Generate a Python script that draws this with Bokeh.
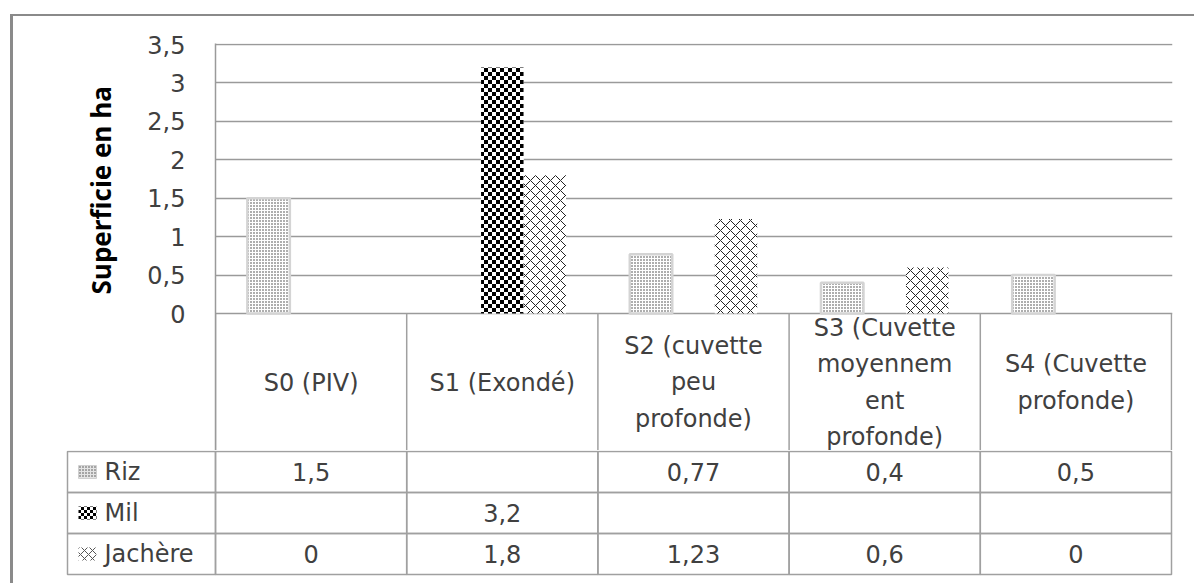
import base64
from bokeh.plotting import figure
from bokeh.models import (Range1d, FixedTicker, CustomJSTickFormatter, Title,
                          ColumnDataSource, ImageURLTexture, Div)
from bokeh.core.properties import value
from bokeh.transform import dodge
from bokeh.embed import file_html
from bokeh.resources import INLINE

# ---------------- data ----------------
CATEGORIES = ["S0 (PIV)", "S1 (Exondé)", "S2 (cuvette peu profonde)",
              "S3 (Cuvette moyennement profonde)", "S4 (Cuvette profonde)"]
CAT_LABELS = ["S0 (PIV)", "S1 (Exondé)", "S2 (cuvette\npeu\nprofonde)",
              "S3 (Cuvette\nmoyennem\nent\nprofonde)", "S4 (Cuvette\nprofonde)"]
SERIES = ["Riz", "Mil", "Jachère"]
RIZ = [1.5, None, 0.77, 0.4, 0.5]
MIL = [None, 3.2, None, None, None]
JACHERE = [0, 1.8, 1.23, 0.6, 0]
Y_TICKS = [0, 0.5, 1, 1.5, 2, 2.5, 3, 3.5]
Y_LABEL = "Superficie en ha"

# ---------------- style / layout (page pixels) ----------------
FONT = "DejaVu Sans"
FS = "24px"
TXT = "#404040"
GRID = "#9a9a9a"
TLINE = "#a0a0a0"
FRAME = "#8a8a8a"

W = 1186
PLOT_L = 215
PLOT_T, PLOT_B = 44, 313
FRAME_T = 43
TOP_H = 450          # chart canvas (plot + header row of the table)
HEADER_B = 451
ROW_H = 41
LEG_L = 67
TABLE_H = 127
n = len(CATEGORIES)
CW = 191.2
BW = 1 / 4.5

nan = float("nan")


def bar_vals(vals):
    return [nan if v is None else v for v in vals]


def fmt(v):
    return "" if v is None else f"{v:g}".replace(".", ",")


xc = [i + 0.5 for i in range(n)]
src = ColumnDataSource(dict(xc=xc, riz=bar_vals(RIZ), mil=bar_vals(MIL),
                            jach=bar_vals(JACHERE)))

K = (PLOT_B - PLOT_T) / Y_TICKS[-1]
y_end = Y_TICKS[-1] + (PLOT_T - FRAME_T) / K
y_start = -(TOP_H - PLOT_B) / K
x_end = n + 1 / CW


def checker_texture(cell):
    s = 2 * cell
    svg = (f"<svg xmlns='http://www.w3.org/2000/svg' width='{s}' height='{s}' "
           f"shape-rendering='crispEdges'>"
           f"<rect width='{s}' height='{s}' fill='white'/>"
           f"<rect x='0' y='0' width='{cell}' height='{cell}' fill='black'/>"
           f"<rect x='{cell}' y='{cell}' width='{cell}' height='{cell}' fill='black'/></svg>")
    url = "data:image/svg+xml;base64," + base64.b64encode(svg.encode()).decode()
    return ImageURLTexture(url=url, repetition="repeat")


checker_big = checker_texture(4)
checker_small = checker_texture(3)
try:
    CHECK = value("checker")
    figure().vbar(x=[0], top=[1], hatch_pattern=CHECK,
                  hatch_extra={"checker": checker_big})
except Exception:
    CHECK = "checker"

# ---------------- chart ----------------
p = figure(width=W, height=TOP_H,
           x_range=Range1d(0, x_end), y_range=Range1d(y_start, y_end),
           output_backend="svg", toolbar_location=None,
           min_border_left=PLOT_L, min_border_right=W - PLOT_L - int(round(CW * x_end)),
           min_border_top=FRAME_T, min_border_bottom=0)
p.outline_line_color = None
p.background_fill_color = "white"
p.border_fill_color = "white"
p.xaxis.visible = False
p.xgrid.visible = False
p.ygrid.ticker = FixedTicker(ticks=Y_TICKS)
p.ygrid.grid_line_color = GRID
p.ygrid.grid_line_width = 1.5

ax = p.yaxis[0]
ax.ticker = FixedTicker(ticks=Y_TICKS)
ax.formatter = CustomJSTickFormatter(code="return tick.toString().replace('.', ',');")
ax.axis_line_color = GRID
ax.axis_line_width = 1.5
ax.major_tick_line_color = None
ax.minor_tick_line_color = None
ax.major_tick_out = 0
ax.major_tick_in = 0
ax.major_label_standoff = 30
ax.major_label_text_font = FONT
ax.major_label_text_font_size = FS
ax.major_label_text_color = TXT

p.add_layout(Title(text=Y_LABEL, align="left", offset=TOP_H - 294,
                   text_font="Open Sans", text_font_style="bold",
                   text_font_size="26px", text_color="black", standoff=52), "left")

p.vbar(x=dodge("xc", -BW), top="riz", width=BW, source=src,
       fill_color="white", line_color="#d4d4d4", line_width=2.5,
       hatch_pattern="dot", hatch_scale=3, hatch_color="#333333", hatch_weight=1)
p.vbar(x=dodge("xc", 0), top="mil", width=BW, source=src,
       fill_color="white", line_color=None,
       hatch_pattern=CHECK, hatch_extra={"checker": checker_big},
       hatch_scale=8, hatch_color="black")
p.vbar(x=dodge("xc", BW), top="jach", width=BW, source=src,
       fill_color="white", line_color=None,
       hatch_pattern="diagonal_cross", hatch_scale=10, hatch_weight=1,
       hatch_color="#222222")

# header row of the data table (category labels)
bounds = list(range(n + 1))
p.segment(x0=bounds, x1=bounds, y0=[0] * (n + 1), y1=[y_start] * (n + 1),
          line_color=TLINE, line_width=1.5)
p.text(x=xc, y=[-((PLOT_B + HEADER_B) / 2 - PLOT_B) / K] * n, text=CAT_LABELS,
       text_align="center", text_baseline="middle", text_font=value(FONT),
       text_font_size=FS, text_color=TXT, text_line_height=1.3)

# ---------------- data rows of the table ----------------
t = figure(width=W, height=TABLE_H,
           x_range=Range1d(64, W - 12),
           y_range=Range1d(TOP_H + TABLE_H, TOP_H),
           output_backend="svg", toolbar_location=None,
           min_border_left=64, min_border_right=12,
           min_border_top=0, min_border_bottom=0)
t.axis.visible = False
t.grid.visible = False
t.outline_line_color = None
t.background_fill_color = "white"
t.border_fill_color = "white"

cat_left = [PLOT_L + i * CW for i in range(n)]
cat_mid = [l + CW / 2 for l in cat_left]
lefts = [LEG_L] + cat_left
rights = [PLOT_L] + [l + CW for l in cat_left]
row_mid = []
for r, vals in enumerate([RIZ, MIL, JACHERE]):
    top = HEADER_B + r * ROW_H
    bot = top + ROW_H
    row_mid.append((top + bot) / 2)
    t.quad(left=lefts, right=rights, top=[top] * len(lefts), bottom=[bot] * len(lefts),
           fill_color=None, line_color=TLINE, line_width=1.5)
    t.text(x=cat_mid, y=[(top + bot) / 2] * n, text=[fmt(v) for v in vals],
           text_align="center", text_baseline="middle", text_font=value(FONT),
           text_font_size=FS, text_color=TXT)

t.text(x=[LEG_L + 37] * 3, y=row_mid, text=SERIES, text_align="left",
       text_baseline="middle", text_font=value(FONT), text_font_size=FS,
       text_color=TXT)
t.rect(x=[LEG_L + 20], y=[row_mid[0]], width=18, height=13,
       fill_color="#e4e4e4", line_color="#d0d0d0",
       hatch_pattern="dot", hatch_scale=3, hatch_color="#444444", hatch_weight=1)
t.rect(x=[LEG_L + 20], y=[row_mid[1]], width=18, height=13,
       fill_color="white", line_color=None,
       hatch_pattern=CHECK, hatch_extra={"checker": checker_small},
       hatch_scale=6, hatch_color="black")
t.rect(x=[LEG_L + 20], y=[row_mid[2]], width=18, height=13,
       fill_color="white", line_color=None,
       hatch_pattern="diagonal_cross", hatch_scale=8, hatch_weight=1,
       hatch_color="#555555")

# outer chart-area frame (top and left edges visible)
frame_div = Div(text="", width=1185, height=570,
                styles={"position": "absolute", "left": "5px", "top": "9px",
                        "border-left": f"3px solid {FRAME}",
                        "border-top": f"2px solid {FRAME}",
                        "z-index": "10", "pointer-events": "none"})

open("out.html", "w").write(file_html([p, t, frame_div], INLINE))
